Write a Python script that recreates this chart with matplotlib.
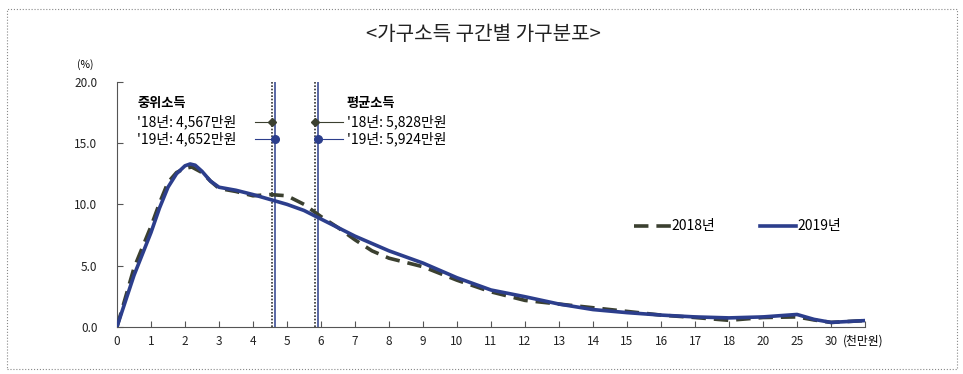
import matplotlib
matplotlib.use("Agg")
import matplotlib.pyplot as plt
from matplotlib.patches import Rectangle

plt.rcParams["font.family"] = ["Noto Sans CJK KR", "DejaVu Sans"]

# x positions are category slots: 0..18, then 20, 25, 30
tick_labels = [str(i) for i in range(19)] + ["20", "25", "30"]

x2018 = [0, 0.5, 1, 1.25, 1.5, 1.75, 2, 2.2, 2.5, 2.75, 3, 3.5, 4, 4.5, 5, 5.5, 6, 6.5, 7, 7.5, 8, 9,
         10, 11, 12, 13, 14, 15, 16, 17, 18, 19, 20, 20.5, 21, 22]
y2018 = [0, 4.8, 8.2, 10.1, 11.8, 12.6, 12.95, 13.05, 12.6, 11.9, 11.3, 11.05, 10.7, 10.8, 10.7, 10.0,
         9.0, 8.1, 7.1, 6.2, 5.6, 4.9, 3.8, 2.85, 2.15, 1.85, 1.55, 1.25, 0.95, 0.75, 0.52, 0.75, 0.8,
         0.55, 0.35, 0.5]

x2019 = [0, 0.5, 1, 1.25, 1.5, 1.75, 2, 2.15, 2.3, 2.5, 2.75, 3, 3.5, 4, 4.5, 5, 5.5, 6, 7, 8, 9,
         10, 11, 12, 13, 14, 15, 16, 17, 18, 19, 20, 20.5, 21, 22]
y2019 = [0, 4.2, 7.7, 9.7, 11.4, 12.5, 13.15, 13.3, 13.2, 12.7, 11.9, 11.4, 11.15, 10.8, 10.4, 10.0,
         9.5, 8.8, 7.4, 6.2, 5.2, 4.0, 3.0, 2.45, 1.85, 1.4, 1.15, 0.95, 0.8, 0.72, 0.8, 1.0, 0.6,
         0.35, 0.5]

median = {"2018": 4.567, "2019": 4.652}
mean = {"2018": 5.828, "2019": 5.924}

c18 = "#3b4030"
c19 = "#2c3e8c"

fig = plt.figure(figsize=(9.63, 3.74), dpi=100)
ax = fig.add_axes([117 / 963, 1 - 326.7 / 374, (865 - 117) / 963, (326.7 - 82) / 374])

ax.plot(x2018, y2018, color=c18, lw=2.6, ls=(0, (4, 2.2)), label="2018년", zorder=3)
ax.plot(x2019, y2019, color=c19, lw=2.6, label="2019년", solid_joinstyle="round", zorder=4)

# median / mean reference lines
for v in (median["2018"], mean["2018"]):
    ax.axvline(v, color="#333333", lw=1.2, ls=(0, (1, 1)), zorder=2)
for v in (median["2019"], mean["2019"]):
    ax.axvline(v, color=c19, lw=1.1, zorder=2)

ax.set_xlim(0, 22)
ax.set_ylim(0, 20)
ax.set_xticks(range(23))
ax.set_xticklabels(tick_labels + [""])
ax.set_yticks([0, 5, 10, 15, 20])
ax.set_yticklabels(["0.0", "5.0", "10.0", "15.0", "20.0"])
ax.tick_params(direction="in", length=4, color="#555555", labelsize=8.5, labelcolor="#222222")
ax.tick_params(axis="y", pad=14)
ax.tick_params(axis="x", pad=6)
for s in ("top", "right"):
    ax.spines[s].set_visible(False)
for s in ("left", "bottom"):
    ax.spines[s].set_color("#555555")

# median text + markers
ax.text(0.6, 18.3, "중위소득", fontsize=9.5, fontweight="bold", va="center")
ax.text(0.6, 16.75, "'18년: 4,567만원", fontsize=10, va="center")
ax.text(0.6, 15.35, "'19년: 4,652만원", fontsize=10, va="center")
ax.plot([4.05, median["2018"]], [16.75, 16.75], color=c18, lw=0.8)
ax.plot(median["2018"], 16.75, marker="D", ms=4, color=c18)
ax.plot([4.05, median["2019"]], [15.35, 15.35], color=c19, lw=0.8)
ax.plot(median["2019"], 15.35, marker="o", ms=5.5, color=c19)

# mean text + markers
ax.text(6.75, 18.3, "평균소득", fontsize=9.5, fontweight="bold", va="center")
ax.text(6.75, 16.75, "'18년: 5,828만원", fontsize=10, va="center")
ax.text(6.75, 15.35, "'19년: 5,924만원", fontsize=10, va="center")
ax.plot([mean["2018"], 6.65], [16.75, 16.75], color=c18, lw=0.8)
ax.plot(mean["2018"], 16.75, marker="D", ms=4, color=c18)
ax.plot([mean["2019"], 6.65], [15.35, 15.35], color=c19, lw=0.8)
ax.plot(mean["2019"], 15.35, marker="o", ms=5.5, color=c19)

ax.legend(loc="center left", bbox_to_anchor=(0.675, 0.41), ncol=2, frameon=False,
          fontsize=10, handlelength=2.6, handletextpad=0.1, columnspacing=3.2)

fig.text(85 / 963, 1 - 65 / 374, "(%)", fontsize=7.5, ha="center", va="center")
fig.text(843 / 963, 1 - 341 / 374, "(천만원)", fontsize=8.5, ha="left", va="center")
fig.text(483 / 963, 1 - 35 / 374, "<가구소득 구간별 가구분포>", fontsize=14.5,
         ha="center", va="center", color="#222222")

fig.patches.append(Rectangle((7 / 963, 1 - 369 / 374), 950 / 963, 360 / 374,
                             transform=fig.transFigure, fill=False,
                             ec="#888888", lw=0.8, ls=":"))

fig.savefig("out.png", dpi=100)
